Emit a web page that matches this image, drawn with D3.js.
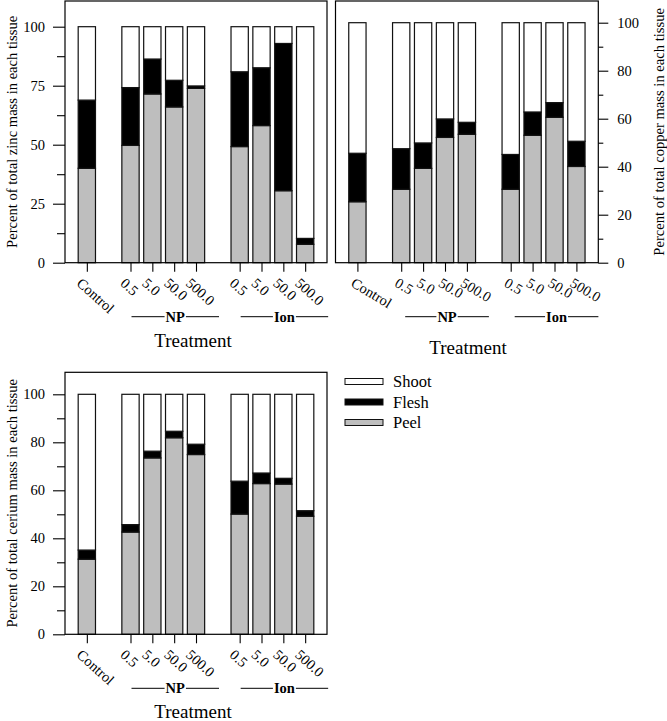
<!DOCTYPE html>
<html>
<head>
<meta charset="utf-8">
<script src="https://cdn.jsdelivr.net/npm/d3@7"></script>
<style>
  html, body { margin: 0; padding: 0; background: #fff; }
  svg { display: block; }
  svg text { font-family: "Liberation Serif", "Times New Roman", serif; }
</style>
</head>
<body>
<svg id="chart" width="667" height="721"></svg>
<script>
// ---------------- DATA ----------------
const treatments = ["Control", "NP 0.5", "NP 5.0", "NP 50.0", "NP 500.0", "Ion 0.5", "Ion 5.0", "Ion 50.0", "Ion 500.0"];
const tickLabels = ["Control", "0.5", "5.0", "50.0", "500.0", "0.5", "5.0", "50.0", "500.0"];
const slots = ["Control", "gapA", "NP 0.5", "NP 5.0", "NP 50.0", "NP 500.0", "gapB", "Ion 0.5", "Ion 5.0", "Ion 50.0", "Ion 500.0"];
const groups = [{ name: "NP", members: ["NP 0.5", "NP 500.0"] }, { name: "Ion", members: ["Ion 0.5", "Ion 500.0"] }];
const tissues = ["Peel", "Flesh", "Shoot"];
const legendOrder = ["Shoot", "Flesh", "Peel"];

const zincPeel   = [40.0, 49.7, 71.5, 66.0, 73.9, 49.2, 58.1, 30.5, 7.8];
const zincFlesh  = [28.9, 24.5, 14.8, 11.3, 1.0, 31.7, 24.5, 62.4, 2.5];
const zincShoot  = [31.1, 25.8, 13.7, 22.7, 25.1, 19.1, 17.4, 7.1, 89.7];

const copperPeel  = [25.4, 30.6, 39.3, 52.2, 53.5, 30.6, 53.1, 60.6, 40.1];
const copperFlesh = [20.2, 16.9, 10.6, 7.7, 5.0, 14.5, 9.7, 6.1, 10.5];
const copperShoot = [54.4, 52.5, 50.1, 40.1, 41.5, 54.9, 37.2, 33.3, 49.4];

const ceriumPeel  = [31.3, 42.6, 73.5, 81.9, 74.9, 50.1, 62.8, 62.6, 49.2];
const ceriumFlesh = [3.8, 3.1, 2.8, 2.7, 4.3, 13.7, 4.4, 2.4, 2.3];
const ceriumShoot = [64.9, 54.3, 23.7, 15.4, 20.8, 36.2, 32.8, 35.0, 48.5];

const zincTicks = [0, 25, 50, 75, 100];
const zincMinor = [12.5, 37.5, 62.5, 87.5];
const pctTicks = [0, 20, 40, 60, 80, 100];
const pctMinor = [10, 30, 50, 70, 90];

const colors = { Peel: "#bebebe", Flesh: "#000000", Shoot: "#ffffff" };
const FONT = "Liberation Serif";

// ---------------- DRAW ----------------
const svg = d3.select("#chart");

function rows(peel, flesh, shoot) {
  return treatments.map((t, i) => ({ t, Peel: peel[i], Flesh: flesh[i], Shoot: shoot[i] }));
}

function drawPanel(cfg) {
  const g = svg.append("g").attr("font-family", FONT);
  const { x0, x1, yTop, yBottom, y100 } = cfg;
  const x = d3.scalePoint().domain(slots).range([x0, x1]).padding(1);
  const y = d3.scaleLinear().domain([0, 100]).range([yBottom, y100]);
  const bw = 17.3;
  const series = d3.stack().keys(tissues)(cfg.data);

  g.selectAll("g.series").data(series).join("g")
    .attr("fill", d => colors[d.key])
    .selectAll("rect").data(d => d).join("rect")
    .attr("x", d => x(d.data.t) - bw / 2)
    .attr("width", bw)
    .attr("y", d => y(d[1]))
    .attr("height", d => y(d[0]) - y(d[1]))
    .attr("stroke", "#111")
    .attr("stroke-width", 1.2);

  // frame
  g.append("rect").attr("x", x0).attr("y", yTop).attr("width", x1 - x0).attr("height", yBottom - yTop)
    .attr("fill", "none").attr("stroke", "#000").attr("stroke-width", 1.2);

  // y axis
  const right = cfg.side === "right";
  const axMaj = (right ? d3.axisRight(y) : d3.axisLeft(y)).tickValues(cfg.major)
    .tickSize(right ? 10 : 12).tickPadding(right ? 9 : 8).tickFormat(d3.format("d"));
  const axMin = (right ? d3.axisRight(y) : d3.axisLeft(y)).tickValues(cfg.minor)
    .tickSize(right ? 5 : 8).tickFormat("");
  const ay = g.append("g").attr("transform", `translate(${right ? x1 : x0},0)`).call(axMaj);
  const ay2 = g.append("g").attr("transform", `translate(${right ? x1 : x0},0)`).call(axMin);
  [ay, ay2].forEach(a => {
    a.attr("font-family", FONT);
    a.select(".domain").remove();
    a.selectAll("line").attr("stroke", "#000").attr("stroke-width", 1.1);
  });
  ay.selectAll("text").attr("font-family", FONT).attr("font-size", 14.5).attr("fill", "#000");

  // y title
  g.append("text")
    .attr("transform", `translate(${cfg.titleX},${(yTop + yBottom) / 2}) rotate(-90)`)
    .attr("text-anchor", "middle").attr("dy", "0.35em")
    .attr("font-family", FONT).attr("font-size", 14.6).attr("fill", "#000")
    .text(cfg.title);

  // x axis ticks
  const ax = d3.axisBottom(x).tickValues(treatments).tickSize(9).tickFormat("");
  const axg = g.append("g").attr("transform", `translate(0,${yBottom})`).call(ax);
  axg.select(".domain").remove();
  axg.selectAll("line").attr("stroke", "#000").attr("stroke-width", 1.1);

  // rotated tick labels
  g.selectAll("text.xlab").data(treatments).join("text")
    .attr("class", "xlab")
    .attr("transform", (d, i) => `translate(${x(d) - cfg.labDx},${yBottom + 14}) rotate(${cfg.rot})`)
    .attr("dy", "0.72em")
    .attr("font-family", FONT).attr("font-size", 14.5).attr("fill", "#000")
    .text((d, i) => tickLabels[i]);

  // group labels with lines
  const gy = yBottom + 54;
  groups.forEach(gr => {
    const a = x(gr.members[0]) + cfg.grpStart;
    const b = x(gr.members[1]) + cfg.grpEnd;
    const mid = (a + b) / 2;
    const t = g.append("text").attr("x", mid).attr("y", gy).attr("dy", "0.35em")
      .attr("text-anchor", "middle").attr("font-weight", "bold")
      .attr("font-family", FONT).attr("font-size", 14.5).attr("fill", "#000")
      .text(gr.name);
    const w = t.node().getComputedTextLength();
    g.append("line").attr("x1", a).attr("x2", mid - w / 2 - 1).attr("y1", gy).attr("y2", gy)
      .attr("stroke", "#000").attr("stroke-width", 1);
    g.append("line").attr("x1", mid + w / 2 + 1).attr("x2", b).attr("y1", gy).attr("y2", gy)
      .attr("stroke", "#000").attr("stroke-width", 1);
  });

  // axis title
  g.append("text").attr("x", cfg.treatX).attr("y", cfg.treatY)
    .attr("text-anchor", "middle").attr("font-family", FONT).attr("font-size", 19).attr("fill", "#000")
    .text("Treatment");
}

drawPanel({
  data: rows(zincPeel, zincFlesh, zincShoot),
  x0: 65, x1: 327, yTop: 1, yBottom: 262.7, y100: 26.7,
  major: zincTicks, minor: zincMinor, side: "left",
  title: "Percent of total zinc mass in each tissue", titleX: 12,
  rot: 42, labDx: 4, grpStart: 1, grpEnd: 23,
  treatX: 193, treatY: 347
});

drawPanel({
  data: rows(copperPeel, copperFlesh, copperShoot),
  x0: 335.5, x1: 598.3, yTop: 1, yBottom: 262.7, y100: 22.7,
  major: pctTicks, minor: pctMinor, side: "right",
  title: "Percent of total copper mass in each tissue", titleX: 659,
  rot: 31, labDx: 2, grpStart: 4, grpEnd: 22,
  treatX: 468, treatY: 354
});

drawPanel({
  data: rows(ceriumPeel, ceriumFlesh, ceriumShoot),
  x0: 65, x1: 327, yTop: 372.3, yBottom: 634.3, y100: 394.3,
  major: pctTicks, minor: pctMinor, side: "left",
  title: "Percent of total cerium mass in each tissue", titleX: 12,
  rot: 42, labDx: 4, grpStart: 1, grpEnd: 23,
  treatX: 193, treatY: 718
});

// legend
const lg = svg.append("g").attr("font-family", FONT);
const ly = d3.scalePoint().domain(legendOrder).range([381.5, 422.5]);
lg.selectAll("rect").data(legendOrder).join("rect")
  .attr("x", 345).attr("y", d => ly(d) - 3).attr("width", 38).attr("height", 6)
  .attr("fill", d => colors[d]).attr("stroke", "#111").attr("stroke-width", 1);
lg.selectAll("text").data(legendOrder).join("text")
  .attr("x", 393).attr("y", d => ly(d) + 5.5)
  .attr("font-family", FONT).attr("font-size", 16.5).attr("fill", "#000")
  .text(d => d);
</script>
</body>
</html>
